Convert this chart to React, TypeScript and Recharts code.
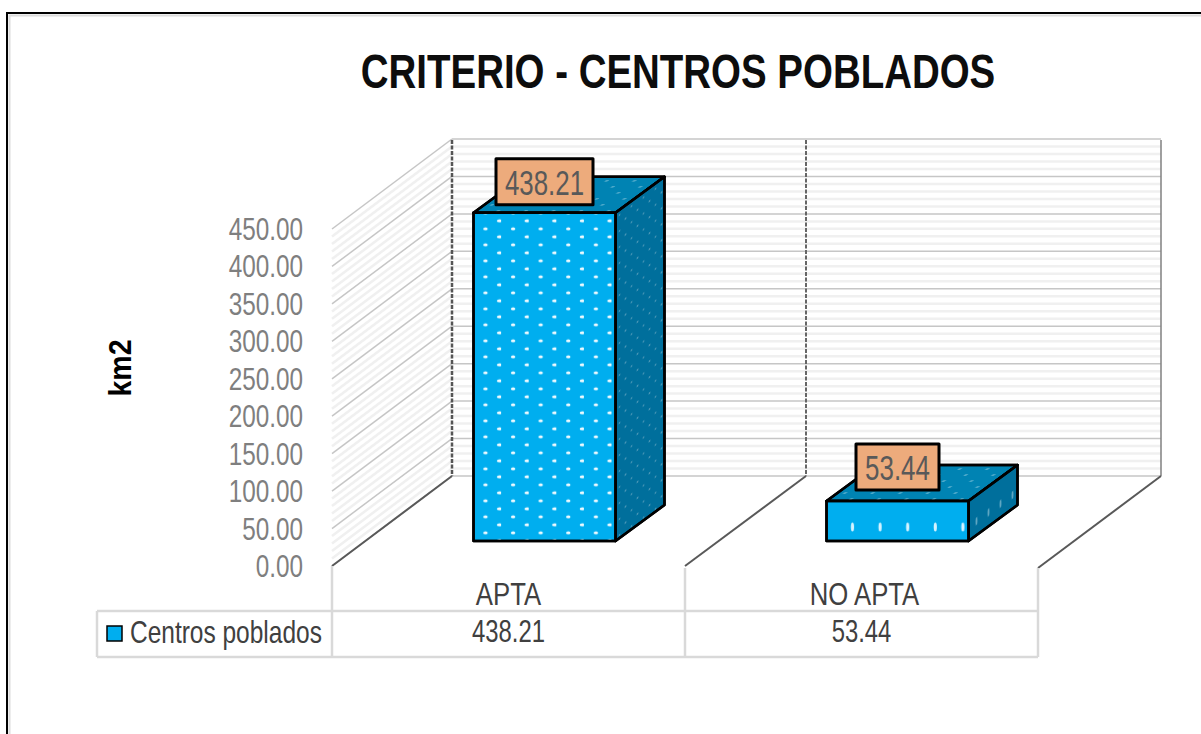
import { BarChart, Bar, XAxis, YAxis, CartesianGrid } from "recharts";

const categories = ["APTA", "NO APTA"];
const centrosPoblados = [438.21, 53.44];
const majorTicks = [0, 50, 100, 150, 200, 250, 300, 350, 400, 450];
const minorTicks = [
  10, 20, 30, 40, 60, 70, 80, 90, 110, 120, 130, 140, 160, 170, 180, 190, 210,
  220, 230, 240, 260, 270, 280, 290, 310, 320, 330, 340, 360, 370, 380, 390,
  410, 420, 430, 440,
];

const data = categories.map((name, i) => ({ name, value: centrosPoblados[i] }));

const FONT = "'Liberation Sans', Arial, sans-serif";
// wall depth of the fake 3D box, and the smaller depth of the bars
const WALL_DX = 120;
const WALL_DY = 90;
const BAR_DX = 36;
const BAR_DY = 25;
const DEPTH_X = 49;
const DEPTH_Y = 36;

// no condensed font is installed, so squeeze Liberation Sans horizontally
function Narrow({ x, y, scale, size, fill, anchor = "middle", bold, children }: any) {
  return (
    <text
      transform={`translate(${x} ${y}) scale(${scale} 1)`}
      textAnchor={anchor}
      fontFamily={FONT}
      fontSize={size}
      fontWeight={bold ? "bold" : "normal"}
      fill={fill}
      stroke="none"
    >
      {children}
    </text>
  );
}

function gridLine(color: string, width: number) {
  return (props: any) => {
    const { x1, y1 } = props;
    const bx = x1 + WALL_DX;
    const by = y1 - WALL_DY;
    return (
      <g key={props.key ?? `${y1}`}>
        <line x1={x1} y1={y1} x2={bx} y2={by} stroke={color} strokeWidth={width} />
        <line x1={bx} y1={by} x2={1161} y2={by} stroke={color} strokeWidth={width} />
      </g>
    );
  };
}

function Bar3D(props: any) {
  const { x, y, width, height, value, index } = props;
  const fx = x + BAR_DX - 0.5;
  const fy = y - BAR_DY;
  const rx = fx + width;
  const by = fy + height;
  const label = Number(value).toFixed(2);
  const boxW = label.length * 14 + 13;
  const cx = fx + width / 2;
  const tall = index === 0;
  const boxY = fy - (tall ? 54 : 57);
  const topPoints = `${fx},${fy} ${rx},${fy} ${rx + DEPTH_X},${fy - DEPTH_Y} ${fx + DEPTH_X},${fy - DEPTH_Y}`;
  const sidePoints = `${rx},${fy} ${rx + DEPTH_X},${fy - DEPTH_Y} ${rx + DEPTH_X},${by - DEPTH_Y} ${rx},${by}`;
  return (
    <g stroke="#000" strokeWidth={2.5} strokeLinejoin="round">
      <defs>
        <pattern
          id={`front${index}`}
          patternUnits="userSpaceOnUse"
          x={fx}
          y={fy}
          width={27.6}
          height={tall ? 16 : 40}
        >
          {tall ? (
            <g fill="#eefaff" stroke="none">
              <ellipse cx={26} cy={8} rx={2.6} ry={1.6} />
              <ellipse cx={12} cy={16} rx={2.2} ry={1.5} />
              <ellipse cx={12} cy={0} rx={2.2} ry={1.5} />
            </g>
          ) : (
            <ellipse cx={26} cy={26} rx={1.6} ry={4.5} fill="#d5f3ff" stroke="none" />
          )}
        </pattern>
        <pattern
          id={`side${index}`}
          patternUnits="userSpaceOnUse"
          width={12}
          height={tall ? 16 : 40}
          patternTransform={`translate(${rx} ${fy}) skewY(-36)`}
        >
          {tall ? (
            <g fill="#4d98b7" stroke="none">
              <circle cx={4} cy={5} r={0.9} />
              <circle cx={10} cy={13} r={0.9} />
            </g>
          ) : (
            <ellipse cx={8} cy={26} rx={1} ry={4} fill="#5fa6c2" stroke="none" />
          )}
        </pattern>
        <pattern
          id={`top${index}`}
          patternUnits="userSpaceOnUse"
          width={27.6}
          height={12}
          patternTransform={`translate(${fx} ${fy}) skewX(-53)`}
        >
          <ellipse cx={8} cy={4} rx={1.8} ry={0.8} fill="#57aecd" stroke="none" />
          <ellipse cx={22} cy={10} rx={1.8} ry={0.8} fill="#57aecd" stroke="none" />
        </pattern>
      </defs>
      <polygon points={topPoints} fill="#0083b3" />
      <polygon points={topPoints} fill={`url(#top${index})`} />
      <polygon points={sidePoints} fill="#006f9c" />
      <polygon points={sidePoints} fill={`url(#side${index})`} />
      <rect x={fx} y={fy} width={width} height={height} fill="#00aeef" />
      <rect x={fx} y={fy} width={width} height={height} fill={`url(#front${index})`} />
      <rect
        x={cx - boxW / 2}
        y={boxY}
        width={boxW}
        height={46}
        fill="#edab7c"
        strokeWidth={3}
      />
      <Narrow x={cx} y={boxY + 36} scale={0.74} size={35} fill="#595959">
        {label}
      </Narrow>
    </g>
  );
}

function YTick({ y, payload }: any) {
  return (
    <Narrow x={303} y={y + 11} scale={0.76} size={32} fill="#7f7f7f" anchor="end">
      {Number(payload.value).toFixed(2)}
    </Narrow>
  );
}

function XTick({ x, payload, index }: any) {
  return (
    <g>
      <Narrow x={x + (index === 1 ? 3 : 0)} y={605} scale={0.83} size={31} fill="#404040">
        {payload.value}
      </Narrow>
      <Narrow x={x} y={642} scale={0.77} size={31} fill="#404040">
        {centrosPoblados[index].toFixed(2)}
      </Narrow>
    </g>
  );
}

export default function App() {
  return (
    <div style={{ position: "absolute", left: 0, top: 0, background: "#fff" }}>
      <BarChart
        width={1201}
        height={734}
        data={data}
        margin={{ top: 229, right: 163, bottom: 138, left: 232 }}
        barSize={142}
      >
        {/* outer frame, cut off by the image on the right and bottom */}
        <path d="M9.5 734V15.5H1201" fill="none" stroke="#dcdcdc" strokeWidth={2} />
        <path d="M7 734V13H1201" fill="none" stroke="#000" strokeWidth={2} />

        <CartesianGrid
          vertical={false}
          horizontalValues={minorTicks}
          horizontal={gridLine("#f0f0f0", 2.5)}
        />
        <CartesianGrid
          vertical={false}
          horizontalValues={majorTicks}
          horizontal={gridLine("#c6c6c6", 1.5)}
        />

        {/* back wall dividers and floor edges */}
        <line x1={452} y1={140} x2={452} y2={476} stroke="#555" strokeWidth={2.5} strokeDasharray="4 1.5" />
        <line x1={806} y1={140} x2={806} y2={476} stroke="#666" strokeWidth={2} strokeDasharray="4 1.5" />
        <line x1={1161} y1={140} x2={1161} y2={476} stroke="#808080" strokeWidth={1.5} />
        <line x1={332} y1={566} x2={452} y2={476} stroke="#595959" strokeWidth={2} />
        <line x1={685} y1={566} x2={806} y2={476} stroke="#595959" strokeWidth={2} />
        <line x1={1038} y1={568} x2={1161} y2={476} stroke="#595959" strokeWidth={2} />

        {/* data table rules */}
        <g stroke="#d9d9d9" strokeWidth={2.5} fill="none">
          <path d="M97 611H1038M97 657H1038M97 611V657" />
          <path d="M332 566V657M685 568V657M1038 568V657" />
        </g>

        <XAxis
          dataKey="name"
          height={30}
          axisLine={false}
          tickLine={false}
          interval={0}
          tick={XTick}
        />
        <YAxis
          width={100}
          domain={[0, 450]}
          ticks={majorTicks}
          interval={0}
          axisLine={false}
          tickLine={false}
          tick={YTick}
        />
        <Bar dataKey="value" shape={Bar3D} isAnimationActive={false} />

        <Narrow x={678} y={88} scale={0.785} size={49} fill="#0d0d0d" bold>
          CRITERIO - CENTROS POBLADOS
        </Narrow>
        <g transform="rotate(-90 131 368)">
          <Narrow x={131} y={368} scale={0.92} size={31} fill="#000" bold>
            km2
          </Narrow>
        </g>
        <rect x={107} y={626} width={15} height={15} fill="#00aeef" stroke="#000" strokeWidth={1.5} />
        <Narrow x={130} y={643} scale={0.79} size={31} fill="#404040" anchor="start">
          Centros poblados
        </Narrow>
      </BarChart>
    </div>
  );
}
